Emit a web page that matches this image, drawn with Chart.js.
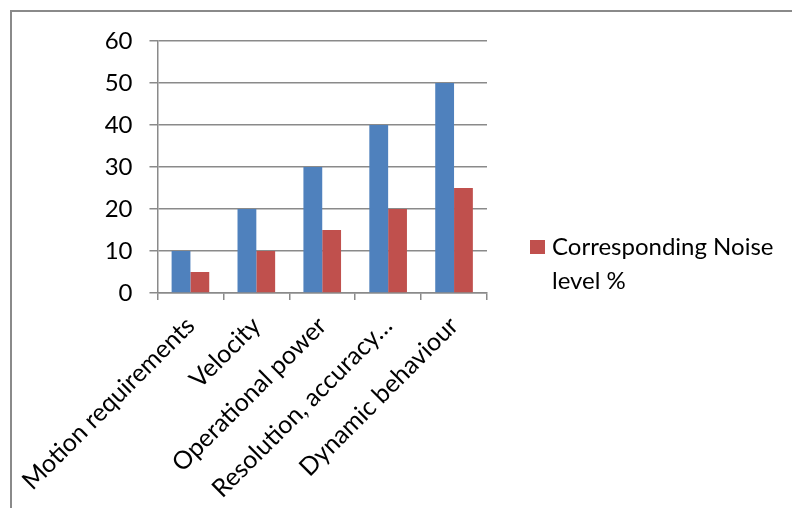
<!DOCTYPE html>
<html>
<head>
<meta charset="utf-8">
<script src="https://cdn.jsdelivr.net/npm/chart.js@4/dist/chart.umd.min.js"></script>
<style>
  html, body { margin: 0; padding: 0; background: #fff; }
  #wrap { width: 792px; height: 508px; position: relative; }
</style>
</head>
<body>
<div id="wrap"><canvas id="c" width="792" height="508"></canvas></div>
<script>
// Categories and series
const categories = [
  'Motion requirements',
  'Velocity',
  'Operational power',
  'Resolution, accuracy…',
  'Dynamic behaviour'
];
const requirementLevel = [10, 20, 30, 40, 50];
const noiseLevel = [5, 10, 15, 20, 25];
const noiseLabel = 'Corresponding Noise level %';
const legendLines = ['Corresponding Noise', 'level %'];
const yTicks = [0, 10, 20, 30, 40, 50, 60];

const FONT = 'Lato, "Open Sans", sans-serif';
const GRID = '#8a8a8a';
const BLUE = '#4F81BD';
const RED = '#C0504D';

// Outer frame (left and top edges) and the side legend
const framePlugin = {
  id: 'frame',
  beforeDraw(chart) {
    const ctx = chart.ctx;
    ctx.save();
    ctx.fillStyle = '#fff';
    ctx.fillRect(0, 0, chart.width, chart.height);
    ctx.strokeStyle = GRID;
    ctx.lineWidth = 2;
    ctx.beginPath();
    ctx.moveTo(11, chart.height);
    ctx.lineTo(11, 11);
    ctx.lineTo(chart.width, 11);
    ctx.stroke();
    ctx.restore();
  }
};

const sideLegend = {
  id: 'sideLegend',
  afterDraw(chart) {
    const ctx = chart.ctx;
    const ds = chart.data.datasets[1];
    const x0 = chart.chartArea.right + 43;
    const y0 = 240;
    ctx.save();
    ctx.fillStyle = ds.backgroundColor;
    ctx.fillRect(x0, y0, 15, 14);
    ctx.fillStyle = '#000';
    ctx.font = '24px ' + FONT;
    ctx.textBaseline = 'alphabetic';
    ctx.textAlign = 'left';
    legendLines.forEach((line, i) => {
      ctx.fillText(line, x0 + 22, y0 + 15 + i * 34);
    });
    ctx.restore();
  }
};

new Chart(document.getElementById('c'), {
  type: 'bar',
  data: {
    labels: categories,
    datasets: [
      {
        label: 'Requirement level',
        data: requirementLevel,
        backgroundColor: BLUE,
        categoryPercentage: 0.571,
        barPercentage: 1
      },
      {
        label: noiseLabel,
        data: noiseLevel,
        backgroundColor: RED,
        categoryPercentage: 0.571,
        barPercentage: 1
      }
    ]
  },
  options: {
    responsive: false,
    animation: false,
    layout: { padding: { left: 0, top: 41, right: 305, bottom: 0 } },
    plugins: {
      legend: { display: false },
      tooltip: { enabled: false }
    },
    scales: {
      x: {
        offset: true,
        grid: {
          offset: true,
          drawOnChartArea: false,
          drawTicks: true,
          tickLength: 7,
          color: GRID,
          lineWidth: 1.5
        },
        border: { display: true, color: GRID, width: 1.5 },
        ticks: {
          autoSkip: false,
          minRotation: 45,
          maxRotation: 45,
          padding: 11,
          color: '#000',
          font: { family: FONT, size: 25 }
        },
        afterFit(scale) { scale.height = 215; }
      },
      y: {
        min: 0,
        max: 60,
        afterBuildTicks(scale) { scale.ticks = yTicks.map(v => ({ value: v })); },
        grid: {
          color: GRID,
          lineWidth: 1.5,
          drawTicks: true,
          tickLength: 8
        },
        border: { display: true, color: GRID, width: 1.5 },
        ticks: {
          padding: 17,
          color: '#000',
          font: { family: FONT, size: 24 }
        },
        afterFit(scale) { scale.width = 157; }
      }
    }
  },
  plugins: [framePlugin, sideLegend]
});
</script>
</body>
</html>
